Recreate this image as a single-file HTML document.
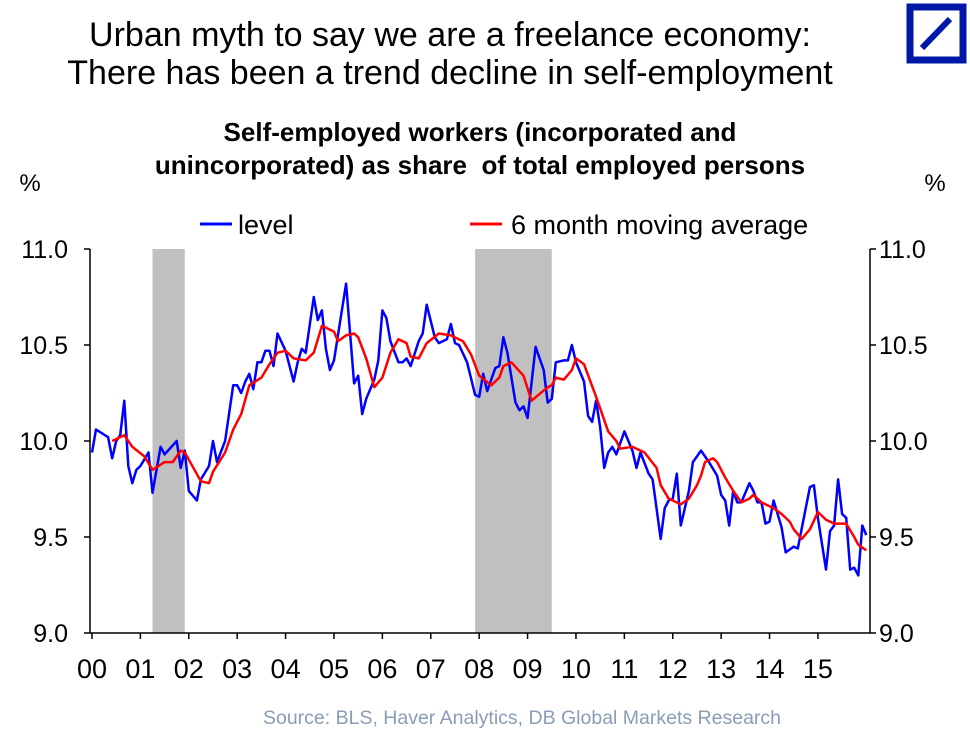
<!DOCTYPE html>
<html><head><meta charset="utf-8"><style>
body{margin:0;background:#fff;width:970px;height:728px;overflow:hidden;font-family:"Liberation Sans",sans-serif}
</style></head><body>
<svg width="970" height="728" xmlns="http://www.w3.org/2000/svg" font-family="Liberation Sans, sans-serif">
<text x="450" y="46" font-size="34" text-anchor="middle">Urban myth to say we are a freelance economy:</text>
<text x="450" y="84" font-size="34" text-anchor="middle">There has been a trend decline in self-employment</text>
<g>
<rect x="910" y="7" width="53" height="53" fill="none" stroke="#0018a8" stroke-width="7"/>
<line x1="922" y1="48" x2="950" y2="19" stroke="#0018a8" stroke-width="6"/>
</g>
<text x="480" y="141" font-size="26" font-weight="bold" text-anchor="middle">Self-employed workers (incorporated and</text>
<text x="480" y="174" font-size="26" font-weight="bold" text-anchor="middle" xml:space="preserve">unincorporated) as share  of total employed persons</text>
<text x="30" y="191" font-size="24" text-anchor="middle">%</text>
<text x="935" y="191" font-size="24" text-anchor="middle">%</text>
<g>
<line x1="200" y1="224" x2="232" y2="224" stroke="#0000ff" stroke-width="3"/>
<text x="238" y="234" font-size="27">level</text>
<line x1="470" y1="224" x2="502" y2="224" stroke="#ff0000" stroke-width="3"/>
<text x="511" y="234" font-size="27">6 month moving average</text>
</g>
<g id="plot"></g>
<text x="522" y="724" font-size="19.5" fill="#8a9cb8" text-anchor="middle">Source: BLS, Haver Analytics, DB Global Markets Research</text>
</svg>
<script>
const yTicks=[9.0,9.5,10.0,10.5,11.0];
const yearLabels=["00","01","02","03","04","05","06","07","08","09","10","11","12","13","14","15"];
const recessionStart=[15,95];
const recessionEnd=[23,114];
const levelMonths=[0,1,4,5,6,7,8,9,10,11,12,14,15,17,18,21,22,23,24,26,27,29,30,31,33,35,36,37,38,39,40,41,42,43,44,45,46,48,50,51,52,53,55,56,57,58,59,60,63,65,66,67,68,70,71,72,73,74,76,77,78,79,81,82,83,85,86,88,89,90,91,93,95,96,97,98,100,101,102,103,105,106,107,108,110,112,113,114,115,117,118,119,120,122,123,124,125,126,127,128,129,130,132,134,135,136,138,139,141,142,143,144,145,146,148,149,150,151,153,155,156,157,158,159,160,161,163,164,165,166,167,168,169,171,172,174,175,178,179,180,182,183,184,185,186,187,188,189,190,191,192];
const levelValues=[9.94,10.06,10.02,9.91,10.0,10.03,10.21,9.87,9.78,9.85,9.87,9.94,9.73,9.97,9.93,10.0,9.86,9.95,9.74,9.69,9.8,9.87,10.0,9.89,10.0,10.29,10.29,10.25,10.31,10.35,10.27,10.41,10.41,10.47,10.47,10.39,10.56,10.47,10.31,10.41,10.48,10.46,10.75,10.63,10.68,10.48,10.37,10.42,10.82,10.30,10.34,10.14,10.22,10.32,10.42,10.68,10.64,10.52,10.41,10.41,10.43,10.39,10.52,10.56,10.71,10.54,10.51,10.53,10.61,10.51,10.50,10.41,10.24,10.23,10.35,10.26,10.38,10.39,10.54,10.46,10.20,10.16,10.18,10.12,10.49,10.37,10.20,10.22,10.41,10.42,10.42,10.50,10.41,10.31,10.13,10.10,10.21,10.07,9.86,9.94,9.97,9.93,10.05,9.95,9.86,9.94,9.83,9.80,9.49,9.65,9.69,9.70,9.83,9.56,9.74,9.89,9.92,9.95,9.89,9.82,9.72,9.69,9.56,9.74,9.68,9.68,9.78,9.74,9.68,9.68,9.57,9.58,9.69,9.55,9.42,9.45,9.44,9.76,9.77,9.60,9.33,9.53,9.56,9.80,9.62,9.60,9.33,9.34,9.30,9.56,9.51];
const maMonths=[5,8,10,13,15,18,20,22,23,27,29,30,33,35,37,39,42,44,46,48,50,53,55,57,60,61,63,65,66,68,70,72,74,76,78,79,81,83,86,89,92,94,96,99,101,102,104,107,109,113,114,115,117,119,120,122,125,128,130,131,134,136,137,140,141,143,144,146,148,150,151,152,154,155,157,159,161,163,164,166,169,171,173,174,176,178,180,182,184,187,189,190,192];
const maValues=[10.0,10.03,9.97,9.92,9.85,9.89,9.89,9.95,9.94,9.79,9.78,9.84,9.94,10.06,10.14,10.29,10.33,10.40,10.46,10.47,10.43,10.42,10.46,10.60,10.57,10.52,10.55,10.56,10.54,10.43,10.28,10.33,10.46,10.53,10.51,10.44,10.43,10.51,10.56,10.55,10.52,10.45,10.34,10.29,10.33,10.39,10.41,10.34,10.21,10.28,10.29,10.33,10.32,10.37,10.43,10.40,10.23,10.05,10.0,9.96,9.97,9.95,9.94,9.86,9.77,9.70,9.69,9.67,9.70,9.77,9.82,9.89,9.91,9.89,9.81,9.74,9.68,9.70,9.72,9.68,9.65,9.62,9.58,9.54,9.49,9.54,9.63,9.59,9.57,9.57,9.50,9.46,9.43];

const NS="http://www.w3.org/2000/svg";
const plot=document.getElementById('plot');
const L=90,R=870,T=249,B=633;
const xm=m=>92+m*4.033;
const yv=v=>T+(11-v)*(B-T)/2;
function mk(tag,attrs,parent){const e=document.createElementNS(NS,tag);for(const k in attrs)e.setAttribute(k,attrs[k]);(parent||plot).appendChild(e);return e;}
for(let i=0;i<recessionStart.length;i++){
  const r=mk('rect',{x:xm(recessionStart[i]),y:T,width:xm(recessionEnd[i])-xm(recessionStart[i]),height:B-T,fill:'#c0c0c0'});
  
  
}
const axL=mk('line',{x1:L,y1:T,x2:L,y2:B,stroke:'#000','stroke-width':1.5});


const axR=mk('line',{x1:R,y1:T,x2:R,y2:B,stroke:'#000','stroke-width':1.5});


const axB=mk('line',{x1:L,y1:B,x2:R,y2:B,stroke:'#000','stroke-width':1.5});


yTicks.forEach(v=>{
  const y=yv(v);
  mk('line',{x1:L-6,y1:y,x2:L,y2:y,stroke:'#000','stroke-width':1.5});
  mk('line',{x1:R,y1:y,x2:R+6,y2:y,stroke:'#000','stroke-width':1.5});
  const t1=mk('text',{x:68,y:y+9,'font-size':25,'text-anchor':'end'});t1.textContent=v.toFixed(1);
  
  
  const t2=mk('text',{x:879,y:y+9,'font-size':25});t2.textContent=v.toFixed(1);
  
  
});
yearLabels.forEach((lab,i)=>{
  const x=xm(i*12);
  mk('line',{x1:x,y1:B,x2:x,y2:B+6,stroke:'#000','stroke-width':1.5});
  const t=mk('text',{x:x,y:678,'font-size':27,'text-anchor':'middle'});t.textContent=lab;
  
  
});
const lp=levelMonths.map((m,i)=>xm(m).toFixed(1)+','+yv(levelValues[i]).toFixed(1)).join(' ');
const lvl=mk('polyline',{points:lp,fill:'none',stroke:'#0000ff','stroke-width':2.5,'stroke-linejoin':'round'});


const mp=maMonths.map((m,i)=>xm(m).toFixed(1)+','+yv(maValues[i]).toFixed(1)).join(' ');
const ma=mk('polyline',{points:mp,fill:'none',stroke:'#ff0000','stroke-width':2.5,'stroke-linejoin':'round'});


</script>
</body></html>
